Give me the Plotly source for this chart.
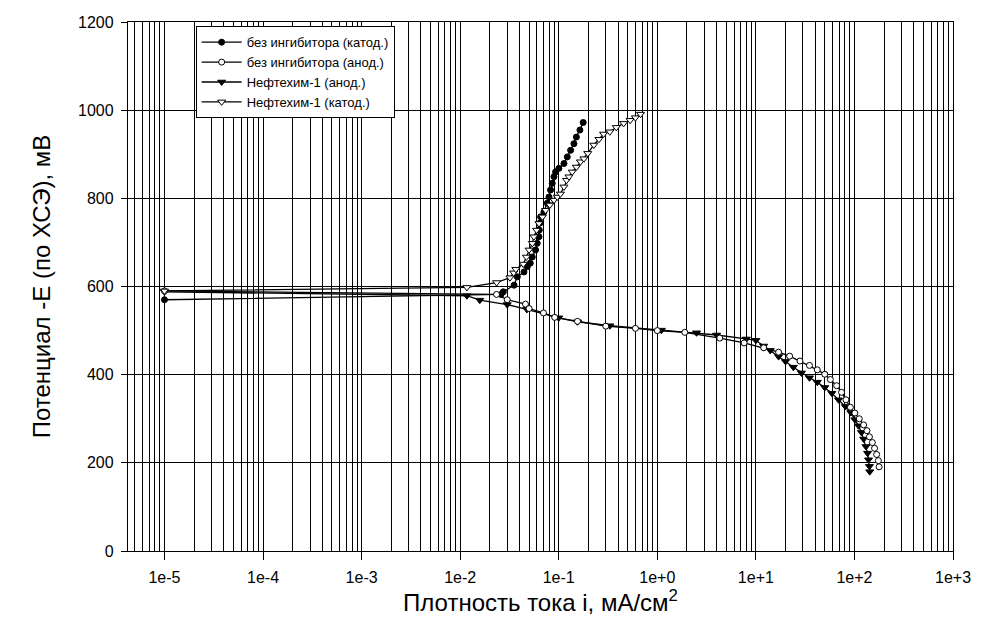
import plotly.graph_objects as go

# --- data ---
a_x = [1e-5, 0.026, 0.0274, 0.0352, 0.038, 0.0444, 0.048, 0.0514, 0.0539, 0.0582, 0.0605, 0.063, 0.0635,
       0.0645, 0.0655, 0.0708, 0.0765, 0.0796, 0.0826, 0.0859, 0.0894, 0.0929, 0.1004, 0.113, 0.122, 0.132,
       0.1426, 0.151, 0.164, 0.177]
a_y = [570, 582, 588, 603, 622, 633, 645, 653, 667, 683, 698, 713, 728, 744, 758, 769, 789, 803, 819, 834,
       849, 860, 868, 879, 894, 909, 924, 939, 955, 972]

b_x = [1e-5, 0.0234, 0.030, 0.046, 0.050, 0.070, 0.091, 0.155, 0.30, 0.6, 1.0, 1.9, 4.3, 7.6, 12, 17, 22,
       28, 35, 42, 50, 57, 66, 74, 82, 91, 101, 112, 124, 134, 142, 152, 160, 168, 175, 178]
b_y = [590, 582, 570, 560, 550, 540, 530, 521, 510, 505, 500, 496, 483, 472, 461, 451, 442, 431, 421, 411,
       401, 389, 375, 360, 343, 326, 313, 300, 286, 273, 259, 246, 233, 219, 205, 191]

c_x = [1e-5, 0.0117, 0.0158, 0.030, 0.0475, 0.1, 0.155, 0.33, 1.1, 2.5, 4.0, 8.0, 10, 12, 14, 17, 20, 24,
       29, 35, 42, 50, 59, 69, 81, 92, 101, 110, 118, 124, 131, 136, 139, 142, 143]
c_y = [588, 579, 569, 559, 548, 529, 520, 511, 501, 495, 490, 481, 478, 465, 455, 441, 430, 417, 404, 393,
       383, 371, 358, 343, 328, 314, 298, 284, 269, 254, 237, 222, 207, 192, 180]

d_x = [1e-5, 0.0117, 0.0234, 0.032, 0.0349, 0.0367, 0.0437, 0.047, 0.050, 0.054, 0.056, 0.0596, 0.063,
       0.0683, 0.0735, 0.0813, 0.0894, 0.0966, 0.104, 0.113, 0.120, 0.127, 0.137, 0.151, 0.166, 0.180, 0.197,
       0.227, 0.256, 0.285, 0.330, 0.384, 0.455, 0.530, 0.60, 0.676]
d_y = [590, 598, 609, 620, 631, 639, 651, 667, 683, 698, 713, 728, 743, 758, 773, 785, 796, 803, 810, 826,
       841, 849, 860, 871, 883, 890, 902, 921, 934, 946, 951, 961, 970, 977, 983, 991]

names = ["без ингибитора (катод.)", "без ингибитора (анод.)", "Нефтехим-1 (анод.)", "Нефтехим-1 (катод.)"]

x_tickvals = [1e-5, 1e-4, 1e-3, 1e-2, 1e-1, 1e0, 1e1, 1e2, 1e3]
x_ticktext = ["1e-5", "1e-4", "1e-3", "1e-2", "1e-1", "1e+0", "1e+1", "1e+2", "1e+3"]
y_tickvals = [0, 200, 400, 600, 800, 1000, 1200]

FONT = "Arial, Liberation Sans, sans-serif"

fig = go.Figure()

def add(x, y, name, symbol, fill, size, rank):
    fig.add_trace(go.Scatter(
        x=x, y=y, name=name, mode="lines+markers", legendrank=rank,
        line=dict(color="black", width=1.3),
        marker=dict(symbol=symbol, size=size, color=fill, line=dict(color="black", width=1)),
    ))

add(a_x, a_y, names[0], "circle", "black", 6, 1)
add(c_x, c_y, names[2], "triangle-down", "black", 7, 3)
add(b_x, b_y, names[1], "circle", "white", 6, 2)
add(d_x, d_y, names[3], "triangle-down", "white", 7, 4)

fig.update_layout(
    width=983, height=641,
    margin=dict(l=128, r=28, t=22, b=90),
    paper_bgcolor="white", plot_bgcolor="white",
    font=dict(family=FONT, color="black", size=16),
    showlegend=True,
    legend=dict(
        x=0.082, y=0.992, xanchor="left", yanchor="top",
        bgcolor="white", bordercolor="black", borderwidth=1,
        font=dict(size=13, family=FONT), tracegroupgap=0,
        itemwidth=40,
    ),
)

fig.update_xaxes(
    type="log", range=[-5.37, 3.0],
    tickvals=x_tickvals, ticktext=x_ticktext,
    ticks="outside", ticklen=8, tickcolor="black", tickwidth=1,
    showgrid=False,
    minor=dict(dtick="D1", showgrid=True, gridcolor="black", gridwidth=1.3, ticks=""),
    showline=True, linecolor="black", linewidth=1.3, mirror=True,
    zeroline=False,
    tickfont=dict(size=16, family=FONT),
    ticklabelstandoff=4,
    title=dict(text="Плотность тока i, мА/см<sup>2</sup>", font=dict(size=24, family=FONT), standoff=5),
)
fig.update_yaxes(
    range=[0, 1200], tickvals=y_tickvals,
    ticks="outside", ticklen=6, tickcolor="black", tickwidth=1,
    showgrid=True, gridcolor="black", gridwidth=1.3,
    showline=True, linecolor="black", linewidth=1.3, mirror=True,
    zeroline=False,
    tickfont=dict(size=16, family=FONT),
    ticklabelstandoff=4,
    title=dict(text="Потенциал -E (по ХСЭ), мВ", font=dict(size=24, family=FONT), standoff=20),
)

fig.write_html("out.html", config={"displayModeBar": False},
               post_script="document.body.style.margin='0';")
